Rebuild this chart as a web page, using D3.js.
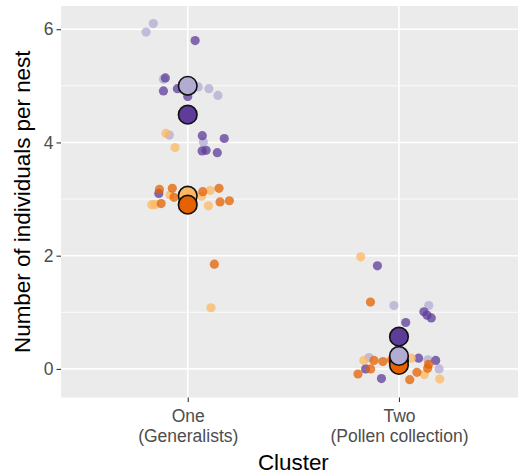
<!DOCTYPE html>
<html>
<head>
<meta charset="utf-8">
<script src="https://cdn.jsdelivr.net/npm/d3@7"></script>
<style>
  html, body { margin: 0; padding: 0; background: #ffffff; }
  svg { display: block; font-family: "Liberation Sans", Arial, Helvetica, sans-serif; }
</style>
</head>
<body>
<svg id="chart" width="518" height="474"></svg>
<script>
// ---- data -------------------------------------------------------------
const clusters = ["One", "Two"];
const clusterSubtitles = ["(Generalists)", "(Pollen collection)"];
const yTicks = [0, 2, 4, 6];
const yMinorTicks = [1, 3, 5];

// nests: [cluster, horizontal jitter (share of category step), individuals per nest]
const lightPurpleNests = [
  ["One", -0.163, 6.10], ["One", -0.197, 5.95], ["One", -0.115, 5.12],
  ["One", 0.050, 4.98], ["One", 0.100, 4.95], ["One", 0.143, 4.83],
  ["One", -0.087, 4.13], ["One", 0.074, 4.01],
  ["Two", -0.024, 1.12], ["Two", 0.141, 1.12], ["Two", -0.142, 0.20],
  ["Two", 0.137, 0.16], ["Two", 0.190, 0.00]
];
const darkPurpleNests = [
  ["One", 0.035, 5.80], ["One", -0.106, 5.14], ["One", -0.115, 4.91],
  ["One", -0.049, 4.95], ["One", 0.000, 4.81], ["One", 0.069, 4.12],
  ["One", 0.173, 4.07], ["One", 0.068, 3.85], ["One", 0.087, 3.86],
  ["One", 0.140, 3.82], ["One", -0.137, 3.10],
  ["Two", -0.102, 1.82], ["Two", 0.118, 1.01], ["Two", 0.133, 0.95],
  ["Two", 0.153, 0.90], ["Two", 0.032, 0.82], ["Two", -0.158, 0.00],
  ["Two", -0.083, -0.17], ["Two", 0.093, 0.19], ["Two", 0.174, 0.15]
];
const lightOrangeNests = [
  ["One", -0.103, 4.16], ["One", -0.060, 3.91], ["One", -0.084, 3.07],
  ["One", -0.170, 2.90], ["One", -0.155, 2.90], ["One", 0.066, 3.05],
  ["One", 0.106, 3.15], ["One", 0.098, 2.88], ["One", 0.110, 1.08],
  ["Two", -0.181, 1.98], ["Two", -0.166, 0.15], ["Two", 0.059, 0.19],
  ["Two", 0.120, -0.10], ["Two", 0.193, -0.18]
];
const darkOrangeNests = [
  ["One", -0.134, 3.17], ["One", -0.073, 3.19], ["One", -0.065, 3.03],
  ["One", -0.126, 2.92], ["One", 0.071, 3.13], ["One", 0.148, 3.19],
  ["One", 0.153, 2.95], ["One", 0.197, 2.97], ["One", 0.126, 1.85],
  ["Two", -0.135, 1.18], ["Two", -0.118, 0.15], ["Two", -0.076, 0.13],
  ["Two", -0.134, 0.00], ["Two", -0.194, -0.09], ["Two", 0.085, -0.06],
  ["Two", 0.051, -0.19], ["Two", 0.136, 0.01], ["Two", -0.035, 0.16],
  ["Two", 0.140, 0.08]
];

// group means per cluster (One, Two)
const lightOrangeMeans = [3.06, 0.14];
const darkOrangeMeans = [2.90, 0.07];
const lightPurpleMeans = [5.00, 0.23];
const darkPurpleMeans = [4.49, 0.57];

// ---- styling ----------------------------------------------------------
const palette = {
  lightPurple: "#b2abd2",
  darkPurple: "#5e3c99",
  lightOrange: "#fdb863",
  darkOrange: "#e66101"
};

const W = 518, H = 474;
const panel = { left: 61, top: 6, right: 525.7, bottom: 397.5 };

const svg = d3.select("#chart");

const x = d3.scalePoint()
  .domain(clusters)
  .range([panel.left, panel.right])
  .padding(0.6);
const step = x.step();

const y = d3.scaleLinear()
  .domain([-0.505, 6.41])
  .range([panel.bottom, panel.top]);

// panel background
svg.append("rect")
  .attr("x", panel.left).attr("y", panel.top)
  .attr("width", panel.right - panel.left)
  .attr("height", panel.bottom - panel.top)
  .attr("fill", "#ebebeb");

// grid
const grid = svg.append("g");
grid.selectAll("line.minor").data(yMinorTicks).enter().append("line")
  .attr("x1", panel.left).attr("x2", panel.right)
  .attr("y1", d => y(d)).attr("y2", d => y(d))
  .attr("stroke", "#ffffff").attr("stroke-width", 0.8);
grid.selectAll("line.major").data(yTicks).enter().append("line")
  .attr("x1", panel.left).attr("x2", panel.right)
  .attr("y1", d => y(d)).attr("y2", d => y(d))
  .attr("stroke", "#ffffff").attr("stroke-width", 1.6);
grid.selectAll("line.vmajor").data(clusters).enter().append("line")
  .attr("x1", d => x(d)).attr("x2", d => x(d))
  .attr("y1", panel.top).attr("y2", panel.bottom)
  .attr("stroke", "#ffffff").attr("stroke-width", 1.6);

// jittered nest points
const pointLayers = [
  ["lightPurple", lightPurpleNests],
  ["darkPurple", darkPurpleNests],
  ["lightOrange", lightOrangeNests],
  ["darkOrange", darkOrangeNests]
];
const pts = svg.append("g");
pointLayers.forEach(([key, rows]) => {
  pts.selectAll(null).data(rows).enter().append("circle")
    .attr("cx", d => x(d[0]) + d[1] * step)
    .attr("cy", d => y(d[2]))
    .attr("r", 4.6)
    .attr("fill", palette[key])
    .attr("fill-opacity", 0.75);
});

// means
const meanLayers = [
  ["lightOrange", lightOrangeMeans],
  ["darkOrange", darkOrangeMeans],
  ["lightPurple", lightPurpleMeans],
  ["darkPurple", darkPurpleMeans]
];
const means = svg.append("g");
meanLayers.forEach(([key, vals]) => {
  means.selectAll(null).data(vals.map((v, i) => [clusters[i], v])).enter().append("circle")
    .attr("cx", d => x(d[0]))
    .attr("cy", d => y(d[1]))
    .attr("r", 9.3)
    .attr("fill", palette[key])
    .attr("stroke", "#111111")
    .attr("stroke-width", 1.6);
});

// axes
const yAxis = svg.append("g")
  .attr("transform", `translate(${panel.left},0)`)
  .call(d3.axisLeft(y).tickValues(yTicks).tickSize(4.5).tickPadding(3).tickFormat(d3.format("d")));
yAxis.select(".domain").remove();
yAxis.selectAll(".tick line").attr("stroke", "#333333").attr("stroke-width", 1.1);
yAxis.selectAll(".tick text")
  .attr("fill", "#4d4d4d")
  .style("font-size", "17.5px")
  .style("font-family", "'Liberation Sans', Arial, sans-serif");

const xAxis = svg.append("g")
  .attr("transform", `translate(0,${panel.bottom})`)
  .call(d3.axisBottom(x).tickSize(4.5).tickPadding(0));
xAxis.select(".domain").remove();
xAxis.selectAll(".tick line").attr("stroke", "#333333").attr("stroke-width", 1.1);
xAxis.selectAll(".tick text").remove();
xAxis.selectAll(".tick").each(function (d, i) {
  const t = d3.select(this).append("text")
    .attr("fill", "#4d4d4d")
    .attr("text-anchor", "middle")
    .style("font-size", "17.5px")
    .style("font-family", "'Liberation Sans', Arial, sans-serif");
  t.append("tspan").attr("x", 0).attr("y", 24.5).text(d);
  t.append("tspan").attr("x", 0).attr("y", 44).text(clusterSubtitles[i]);
});

// axis titles
svg.append("text")
  .attr("x", (panel.left + panel.right) / 2)
  .attr("y", 470)
  .attr("text-anchor", "middle")
  .attr("fill", "#000000")
  .style("font-size", "22.4px")
  .text("Cluster");

svg.append("text")
  .attr("transform", `translate(29.5,${(panel.top + panel.bottom) / 2}) rotate(-90)`)
  .attr("text-anchor", "middle")
  .attr("fill", "#000000")
  .style("font-size", "22.4px")
  .text("Number of individuals per nest");
</script>
</body>
</html>
